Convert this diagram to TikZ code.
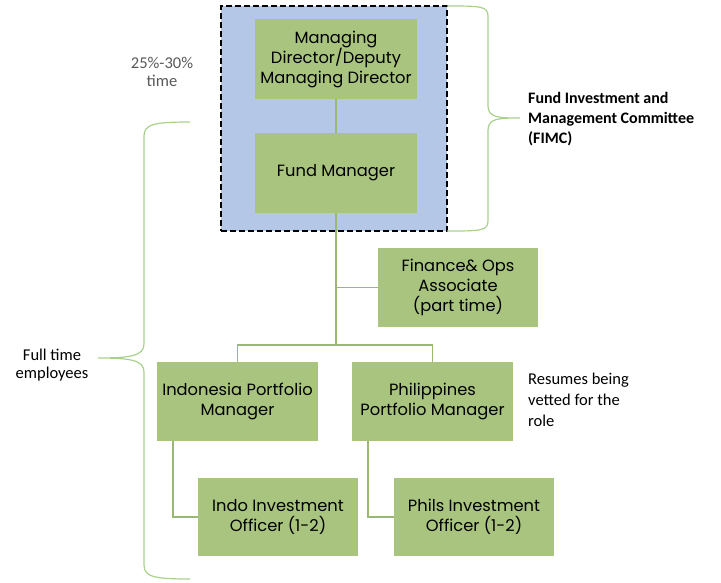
\documentclass[tikz,border=0pt]{standalone}
\usepackage{fontspec}
\setmainfont{Carlito}
\newfontfamily\boxfont{Poppins}
\begin{document}
\begin{tikzpicture}[x=1pt,y=-1pt,
  gbox/.style={draw=none,fill=boxgreen,minimum width=#1,align=center,font=\boxfont\fontsize{16.3}{20}\selectfont,text=black,inner sep=0pt},
  link/.style={draw=linkgreen,line width=1.6pt},
  brace/.style={draw=bracegreen,line width=1.2pt},
  note/.style={font=\fontsize{16.5}{18}\selectfont,inner sep=0pt}]
\definecolor{boxgreen}{HTML}{A9C47F}
\definecolor{linkgreen}{HTML}{9BB873}
\definecolor{bracegreen}{HTML}{A9D18E}
\definecolor{panelblue}{HTML}{B4C7E7}
\useasboundingbox (0,0) rectangle (721,582);
% dashed panel
\node[draw=black,dashed,line width=1.6pt,fill=panelblue,minimum width=226pt,minimum height=225pt,inner sep=0pt,dash pattern=on 6pt off 3pt] (panel) at (334,118.5) {};
% boxes
\node[gbox=162pt,minimum height=80pt] (md) at (336,59) {Managing\\Director/Deputy\\Managing Director};
\node[gbox=162pt,minimum height=80pt] (fm) at (336,173) {Fund Manager};
\node[gbox=160pt,minimum height=79pt] (fo) at (458,287.5) {Finance\& Ops\\Associate\\(part time)};
\node[gbox=161pt,minimum height=79pt] (ipm) at (237.5,401.5) {Indonesia Portfolio\\Manager};
\node[gbox=161pt,minimum height=79pt] (ppm) at (432.5,401.5) {Philippines\\Portfolio Manager};
\node[gbox=160pt,minimum height=78pt] (iio) at (278,517) {Indo Investment\\Officer (1-2)};
\node[gbox=160pt,minimum height=78pt] (pio) at (474,517) {Phils Investment\\Officer (1-2)};
% connectors
\coordinate (j1) at (336,287.5);
\coordinate (j2) at (336,345);
\draw[link] (md) -- (fm);
\draw[link] (fm) -- (j2);
\draw[link] (j1) -- (fo.west);
\draw[link] (ipm.north) |- (j2) -| (ppm.north);
\draw[link] (ipm.south west) ++(16,0) |- (iio.west);
\draw[link] (ppm.south west) ++(16,0) |- (pio.west);
% right brace
\coordinate (rt) at (447,6);
\coordinate (rb) at (447,231);
\coordinate (rtip) at (520,118);
\draw[brace] (rt) .. controls (480,6) and (488,6) .. (488,16) -- (488,106) .. controls (488,118) and (500,118) .. (rtip)
  .. controls (500,118) and (488,118) .. (488,130) -- (488,221) .. controls (488,231) and (480,231) .. (rb);
% left brace
\coordinate (lt) at (190,122);
\coordinate (lb) at (190,579);
\coordinate (ltip) at (98,358);
\draw[brace] (lt) .. controls (155,122) and (144,124) .. (144,136) -- (144,344) .. controls (144,356) and (130,358) .. (ltip)
  .. controls (130,358) and (144,360) .. (144,372) -- (144,565) .. controls (144,577) and (155,579) .. (lb);
% notes
\node[note,text=black!65,align=center] (pct) at (162,72) {25\%-30\%\\time};
\node[note,font=\bfseries\fontsize{16}{20}\selectfont,align=left,anchor=north west] (fimc) at (528,92) {Fund Investment and\\Management Committee\\(FIMC)};
\node[note,align=center] (ft) at (52,365) {Full time\\employees};
\node[note,font=\fontsize{16.5}{21}\selectfont,align=left,anchor=north west] (res) at (528,373) {Resumes being\\vetted for the\\role};
\end{tikzpicture}
\end{document}
